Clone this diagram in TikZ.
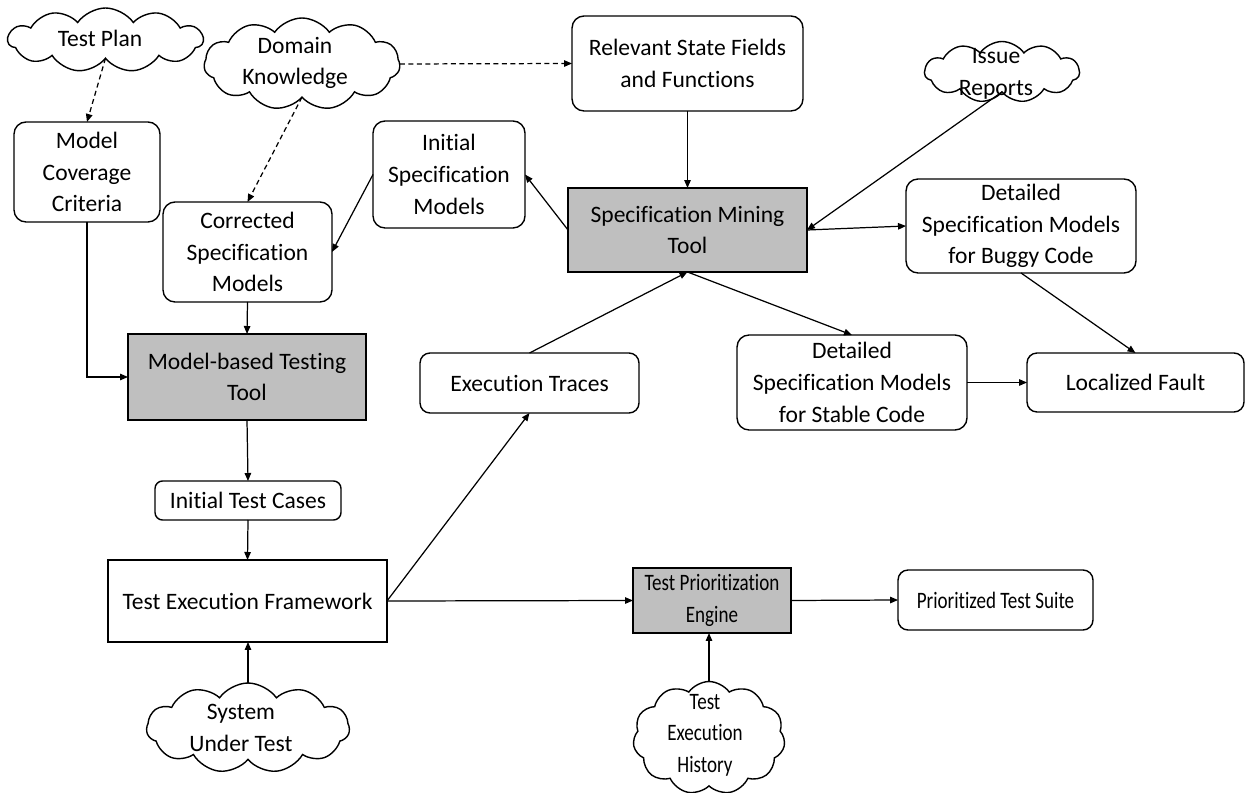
\documentclass[tikz,border=0pt]{standalone}
\usepackage{graphicx}
\usepackage{fontspec}
\setmainfont{Carlito}[Ligatures=NoCommon]
\usetikzlibrary{arrows.meta,shapes.symbols}
\definecolor{boxgray}{RGB}{191,191,191}
\newcommand{\condtext}[1]{\scalebox{0.81}[1]{#1}}
\begin{document}
\begin{tikzpicture}[x=0.02cm,y=-0.02cm,
  every node/.style={font=\fontsize{13.4}{18}\selectfont, align=center, inner sep=0pt, outer sep=0pt},
  rbox/.style={draw, line width=0.8pt, rounded corners=0.24cm, fill=white},
  gbox/.style={draw, line width=0.8pt, fill=boxgray},
  pbox/.style={draw, line width=0.8pt, fill=white},
  cld/.style={draw, line width=0.8pt, cloud, cloud puffs=11, cloud puff arc=110, cloud ignores aspect, fill=white},
  arr/.style={line width=0.7pt, -{Triangle[length=0.16cm,width=0.13cm]}},
  darr/.style={arr, dash pattern=on 0.1cm off 0.07cm},
]
\useasboundingbox (0,0) rectangle (1246,793);

% clouds
\node[cld, minimum width=3.9cm, minimum height=1.28cm] (tp) at (105.5,40) {};
\node (tpt) at (100,38) {Test Plan};
\node[cld, minimum width=3.92cm, minimum height=1.84cm] (dk) at (302,64) {};
\node (dkt) at (295,63) {Domain\\Knowledge};
\node[cld, minimum width=3.1cm, minimum height=1.22cm] (ir) at (1002,72) {};
\node (irt) at (996,74) {Issue\\Reports};
\node[cld, minimum width=4.06cm, minimum height=1.8cm] (sut) at (248,728) {};
\node (sutt) at (241,728) {System\\Under Test};
\node[cld, minimum width=3.04cm, minimum height=2.26cm] (teh) at (709,738) {};
\node (teht) at (705,735) {\condtext{Test}\\\condtext{Execution}\\\condtext{History}};

% boxes
\node[rbox, minimum width=2.92cm, minimum height=2.0cm] (mcc) at (87,172) {Model\\Coverage\\Criteria};
\node[rbox, minimum width=3.38cm, minimum height=2.0cm] (csm) at (247.5,252) {Corrected\\Specification\\Models};
\node[rbox, minimum width=3.04cm, minimum height=2.14cm] (ism) at (449,174.5) {Initial\\Specification\\Models};
\node[rbox, minimum width=4.62cm, minimum height=1.9cm] (rsf) at (687.5,63.5) {Relevant State Fields\\and Functions};
\node[gbox, minimum width=4.78cm, minimum height=1.68cm] (smt) at (687.5,230) {Specification Mining\\Tool};
\node[rbox, minimum width=4.6cm, minimum height=1.88cm] (dbc) at (1021,226) {Detailed\\Specification Models\\for Buggy Code};
\node[gbox, minimum width=4.76cm, minimum height=1.72cm] (mbt) at (247,377) {Model-based Testing\\Tool};
\node[rbox, rounded corners=0.2cm, minimum width=4.38cm, minimum height=1.2cm] (et) at (529.5,383) {Execution Traces};
\node[rbox, minimum width=4.6cm, minimum height=1.9cm] (dsc) at (852,382.5) {Detailed\\Specification Models\\for Stable Code};
\node[rbox, rounded corners=0.2cm, minimum width=4.34cm, minimum height=1.18cm] (lf) at (1135.5,382.5) {Localized Fault};
\node[rbox, rounded corners=0.15cm, minimum width=3.72cm, minimum height=0.78cm] (itc) at (248,500.5) {Initial Test Cases};
\node[pbox, minimum width=5.58cm, minimum height=1.64cm] (tef) at (247.5,601) {Test Execution Framework};
\node[gbox, minimum width=3.16cm, minimum height=1.3cm] (tpe) at (712,600.5) {\condtext{Test Prioritization}\\\condtext{Engine}};
\node[rbox, rounded corners=0.2cm, minimum width=3.9cm, minimum height=1.2cm] (pts) at (995.5,600) {\condtext{Prioritized Test Suite}};

% dashed connectors
\draw[darr] (tp.south) -- (mcc.north);
\draw[darr] (dk.south) -- (csm.north);
\draw[darr] (dk.east) -- (rsf.west);

% solid connectors
\draw[arr] (mcc.south) |- (mbt.west);
\draw[arr] (csm.south) -- (mbt.north);
\draw[arr] (ism.west) -- (csm.east);
\draw[arr] (smt.west) -- (ism.east);
\draw[arr] (rsf.south) -- (smt.north);
\draw[arr] (ir.south) -- (smt.east);
\draw[arr] (smt.east) -- (dbc.west);
\draw[arr] (smt.south) -- (dsc.north);
\draw[arr] (et.north) -- (smt.south);
\draw[arr] (dbc.south) -- (lf.north);
\draw[arr] (dsc.east) -- (lf.west);
\draw[arr] (mbt.south) -- (itc.north);
\draw[arr] (itc.south) -- (tef.north);
\draw[arr] (tef.east) -- (et.south);
\draw[arr] (tef.east) -- (tpe.west);
\draw[arr] (tpe.east) -- (pts.west);
\draw[arr] (sut.north) -- (sut.north |- tef.south);
\draw[arr] (teh.north) -- (teh.north |- tpe.south);
\end{tikzpicture}
\end{document}
